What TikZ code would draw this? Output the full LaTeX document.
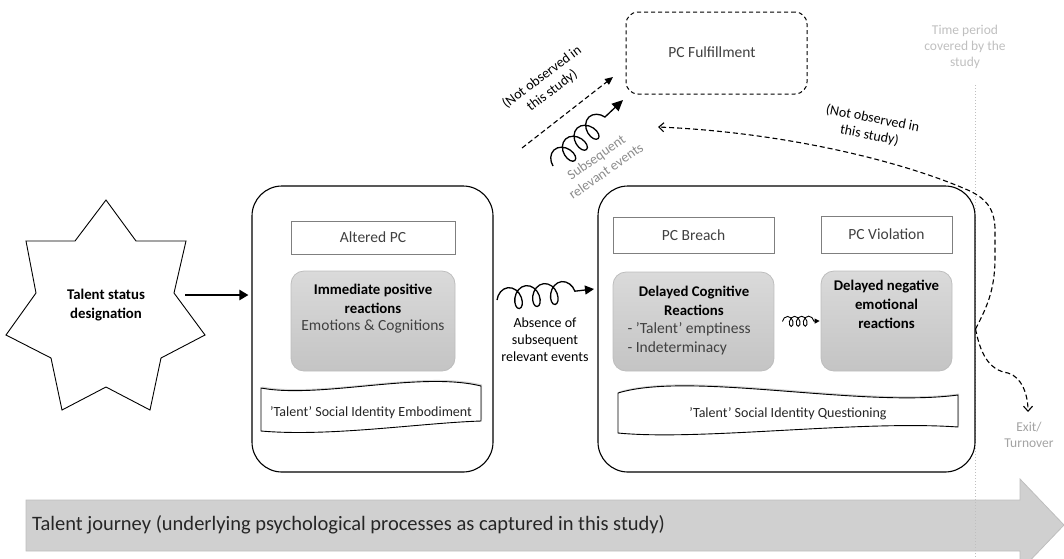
\documentclass[tikz,border=0pt]{standalone}
\usepackage{fontspec}
\setmainfont{Carlito}
\usetikzlibrary{arrows.meta,decorations.pathmorphing,shadows,calc}
\definecolor{txt}{HTML}{404040}
\definecolor{dark}{HTML}{262626}
\definecolor{midgray}{HTML}{8C8C8C}
\definecolor{lightgray}{HTML}{BFBFBF}
\definecolor{boxline}{HTML}{7F7F7F}
\definecolor{grayfillA}{HTML}{DADADA}
\definecolor{grayfillB}{HTML}{C4C4C4}
\definecolor{grayline}{HTML}{BDBDBD}
\definecolor{arrowfill}{HTML}{D0D0D0}
\definecolor{arrowline}{HTML}{BEBEBE}
\tikzset{
  fA/.style={font=\fontsize{15.5}{19}\selectfont},
  fB/.style={font=\fontsize{14.8}{19}\selectfont\bfseries},
  fC/.style={font=\fontsize{14}{17}\selectfont},
  fD/.style={font=\fontsize{13.5}{16}\selectfont},
  bigbox/.style={draw=black, line width=1.1pt, rounded corners=30pt, inner sep=0pt},
  labelbox/.style={draw=boxline, line width=0.8pt, fill=white, inner sep=0pt, fA, text=txt},
  graybox/.style={draw=grayline, line width=0.8pt, rounded corners=13pt, top color=grayfillA, bottom color=grayfillB, inner sep=0pt},
  bannerpath/.style={draw=black, line width=0.9pt, fill=white, drop shadow={opacity=0.35, shadow xshift=1pt, shadow yshift=1.5pt}},
  coilarrow/.style={draw=black, line width=1.3pt, decorate},
  dashedline/.style={draw=black, line width=1.1pt, dash pattern=on 5pt off 3pt},
}
\begin{document}
\begin{tikzpicture}[x=1pt,y=-1pt]
\useasboundingbox (0,0) rectangle (1064,558);

% big journey arrow
\path[fill=arrowfill, draw=arrowline, line width=0.8pt]
  (26,500) -- (1020,500) -- (1020,479) -- (1064,525) -- (1020,571) -- (1020,551) -- (26,551) -- cycle;
\node[anchor=west, font=\fontsize{20.5}{24}\selectfont, text=dark, inner sep=0pt] (journey) at (32,525)
  {Talent journey (underlying psychological processes as captured in this study)};

% time boundary
\draw[lightgray, line width=1pt, dotted] (975,85) coordinate (tTop) -- (975,558) coordinate (tBot);
\node[fD, text=lightgray, align=center] (timetxt) at (965,47) {Time period\\covered by the\\study};

% star
\draw[black, line width=0.9pt, fill=white]
  (106,200) -- (136,241) -- (186,241) -- (174,293) -- (205,335) -- (161,358) -- (150,410)
  -- (106,387) -- (62,410) -- (51,358) -- (6,335) -- (36,293) -- (26,241) -- (75,241) -- cycle;
\node[fB, text=black, align=center] (star) at (106,305) {Talent status\\designation};
\coordinate (starR) at (185,295);

% left big box
\node[bigbox, minimum width=241pt, minimum height=286pt] (boxL) at (372.5,329) {};
\draw[line width=2.6pt, -{Triangle[length=9pt,width=10pt]}] (starR) -- ([xshift=-3pt]boxL.west |- starR);

\node[labelbox, minimum width=164pt, minimum height=33pt] (altered) at (373,237.5) {Altered PC};
\node[graybox, minimum width=164pt, minimum height=100pt] (immed) at (373,321) {};
\node[fB, text=black, align=center] (immedT) at (373,299) {Immediate positive\\reactions};
\node[fA, text=txt] (immedS) at (373,326) {Emotions \& Cognitions};

\path[bannerpath] (261,388) .. controls (320,399) and (420,371) .. (481,386) -- (481,421)
  .. controls (420,423) and (330,437) .. (261,431) -- cycle;
\node[fC, text=dark] (embod) at (371,413) {'Talent' Social Identity Embodiment};

% right big box
\node[bigbox, minimum width=377pt, minimum height=286pt] (boxR) at (786.5,329) {};
\node[labelbox, minimum width=161pt, minimum height=36pt] (breach) at (693.5,235) {PC Breach};
\node[labelbox, minimum width=131pt, minimum height=37pt] (viol) at (886.5,234.5) {PC Violation};
\node[graybox, minimum width=161pt, minimum height=99pt] (cogn) at (693.5,321.5) {};
\node[graybox, minimum width=131pt, minimum height=100pt] (emot) at (886.5,321) {};
\node[fB, text=black, align=center] (cognT) at (694,301) {Delayed Cognitive\\Reactions};
\node[fA, text=txt, align=left, anchor=west] (cognL) at (624,338.5) {- 'Talent' emptiness\\- Indeterminacy};
\node[fB, text=black, align=center] (emotT) at (886.5,304) {Delayed negative\\emotional\\reactions};

\path[bannerpath] (618,393) .. controls (690,371) and (860,408) .. (958,395) -- (958,427)
  .. controls (860,420) and (700,441) .. (618,433) -- cycle;
\node[fC, text=dark] (quest) at (788,414) {'Talent' Social Identity Questioning};

% small coil between delayed boxes
\draw[coilarrow, line width=0.9pt, decoration={coil, amplitude=5pt, segment length=7pt, aspect=0.7, post length=4pt},
  -{Triangle[length=5pt,width=5pt]}] ([xshift=8pt]cogn.east) -- ([xshift=-1pt]emot.west);

% absence coil
\coordinate (absS) at (497,300);
\coordinate (absE) at (594,289);
\draw[coilarrow, decoration={coil, amplitude=11pt, segment length=18pt, aspect=0.7, post length=9pt},
  -{Triangle[length=9pt,width=9pt]}] (absS) -- (absE);
\node[fC, text=black, align=center] (absT) at (545,340) {Absence of\\subsequent\\relevant events};

% PC Fulfillment
\node[draw=black, line width=1pt, dash pattern=on 4pt off 3pt, rounded corners=12pt,
  minimum width=181pt, minimum height=82pt, fill=white] (fulfil) at (716.5,53) {};
\node[fA, text=txt] (fulfilT) at (712,52) {PC Fulfillment};

% straight dashed arrow
\coordinate (dS) at (522,148);
\coordinate (dE) at (613,77);
\draw[dashedline, -{Triangle[length=8pt,width=7pt]}] (dS) -- (dE);
\node[fC, text=black, align=center, rotate=37] (notobs1) at (547,84) {(Not observed in\\this study)};

% subsequent coil
\coordinate (sS) at (553,166);
\coordinate (sE) at (623,100);
\draw[coilarrow, decoration={coil, amplitude=11pt, segment length=16pt, aspect=0.7, post length=10pt},
  -{Triangle[length=11pt,width=10pt]}] (sS) -- (sE);
\node[fC, text=midgray, align=center, rotate=35] (subT) at (601,164) {Subsequent\\relevant events};

% dashed return curve and exit
\coordinate (retE) at (658,127);
\coordinate (exitE) at (1028,412);
\draw[dashedline, -{Straight Barb[length=5pt,width=9pt]}]
  (boxR.east) .. controls (988,305) and (994,290) .. (995,262) -- (995,228)
  .. controls (994,208) and (986,199) .. (970,191)
  .. controls (900,160) and (780,132) .. (retE);
\draw[dashedline, -{Straight Barb[length=5pt,width=9pt]}]
  (boxR.east) .. controls (980,352) and (988,370) .. (1008,373)
  .. controls (1022,377) and (1028,395) .. (exitE);
\node[fC, text=black, align=center, rotate=-11] (notobs2) at (871,127) {(Not observed in\\this study)};
\node[fD, text=midgray!80, align=center] (exitT) at (1029,435) {Exit/\\Turnover};
\end{tikzpicture}
\end{document}
